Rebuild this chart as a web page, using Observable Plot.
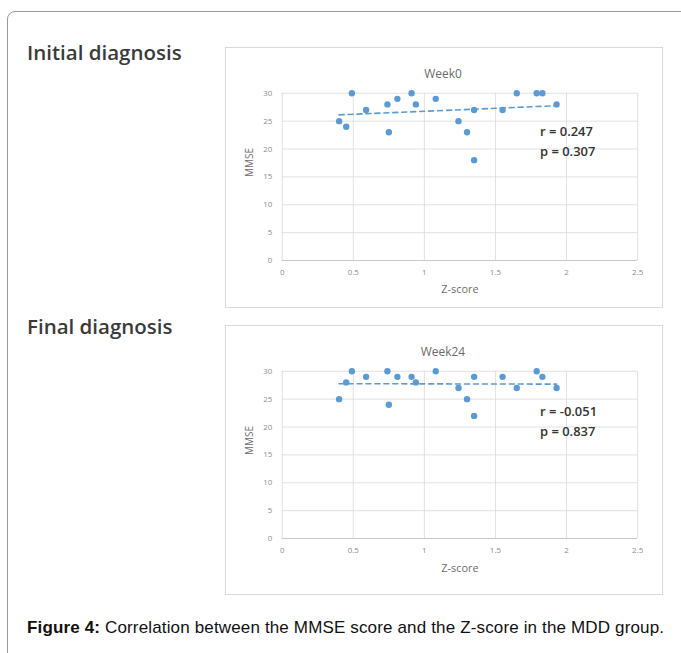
<!DOCTYPE html>
<html>
<head>
<meta charset="utf-8">
<script src="https://cdn.jsdelivr.net/npm/d3@7"></script>
<script src="https://cdn.jsdelivr.net/npm/@observablehq/plot@0.6"></script>
<style>
  html, body { margin: 0; padding: 0; background: #fff; width: 681px; height: 653px; overflow: hidden; position: relative; }
  .card { position: absolute; left: 7px; top: 11px; width: 720px; height: 720px; border: 1px solid #9a9a9a; border-radius: 8px; box-sizing: border-box; }
  .heading { position: absolute; left: 27px; font-family: "Open Sans", sans-serif; font-size: 20.5px; font-weight: 600; color: #3a3a3a; line-height: normal; }
  .frame { position: absolute; left: 225px; width: 438px; border: 1px solid #d9d9d9; box-sizing: border-box; background: #fff; }
  .frame svg { position: absolute; left: -1px; top: -1px; }
  .caption { position: absolute; left: 27px; top: 618px; font-family: "Liberation Sans", Arial, sans-serif; font-size: 17px; letter-spacing: 0.15px; color: #111; white-space: nowrap; }
</style>
</head>
<body>
<div class="card"></div>
<div class="heading" style="top:38px">Initial diagnosis</div>
<div class="heading" style="top:312px">Final diagnosis</div>
<div class="frame" id="f0" style="top:47px;height:261px"></div>
<div class="frame" id="f1" style="top:325px;height:270px"></div>
<div class="caption"><b>Figure 4:</b> Correlation between the MMSE score and the Z-score in the MDD group.</div>
<script>
// Data
const zScore = [0.40,0.45,0.49,0.59,0.74,0.75,0.81,0.91,0.94,1.08,1.24,1.30,1.35,1.35,1.55,1.65,1.79,1.83,1.93];
const mmseWeek0 = [25,24,30,27,28,23,29,30,28,29,25,23,27,18,27,30,30,30,28];
const mmseWeek24 = [25,28,30,29,30,24,29,29,28,30,27,25,29,22,29,27,30,29,27];
const xTicks = [0,0.5,1,1.5,2,2.5];
const yTicks = [0,5,10,15,20,25,30];
const panelTitles = ["Week0","Week24"];
const statsWeek0 = "r = 0.247\np = 0.307";
const statsWeek24 = "r = -0.051\np = 0.837";

const blue = "#5b9bd5";
const grid = "#d9d9d9";
const tickColor = "#8c8c8c";

function makeChart(values, title, stats, opts) {
  const data = zScore.map((z, i) => ({z, mmse: values[i]}));
  return Plot.plot({
    width: 438,
    height: opts.height,
    marginTop: 46,
    marginBottom: opts.marginBottom,
    marginLeft: 57,
    marginRight: 24,
    style: {fontFamily: "'Open Sans', sans-serif", background: "transparent", overflow: "visible"},
    x: {domain: [0, 2.5]},
    y: {domain: [0, 30]},
    marks: [
      Plot.gridX(xTicks, {stroke: grid, strokeOpacity: 1, strokeWidth: 0.8}),
      Plot.gridY(yTicks, {stroke: grid, strokeOpacity: 1, strokeWidth: 0.8}),
      Plot.ruleY([0], {stroke: "#c8c8c8", strokeWidth: 1}),
      Plot.axisX(xTicks, {tickSize: 0, tickPadding: 9, fontSize: 8, fill: tickColor, tickFormat: d => String(d), label: null}),
      Plot.axisY(yTicks, {tickSize: 0, tickPadding: 10, fontSize: 8, fill: tickColor, tickFormat: d => String(d), label: null}),
      Plot.text(["Z-score"], {frameAnchor: "bottom", dy: opts.xLabelDy, fontSize: 11, fill: "#6e6e6e"}),
      Plot.text(["MMSE"], {frameAnchor: "left", dx: -33, rotate: -90, fontSize: 10, fill: "#6e6e6e"}),
      Plot.text([title], {frameAnchor: "top", dx: -17, dy: -24, fontSize: 12, fill: "#6a6a6a"}),
      Plot.linearRegressionY(data, {x: "z", y: "mmse", stroke: blue, strokeWidth: 1.6, strokeDasharray: "5,4", ci: 0}),
      Plot.dot(data, {x: "z", y: "mmse", r: 3.2, fill: blue, stroke: "none"}),
      Plot.text([stats], {frameAnchor: "top-left", textAnchor: "start", lineAnchor: "top", dx: 259, dy: opts.statsDy, fontSize: 13, lineHeight: 1.55, fill: "#333", fontWeight: 600})
    ]
  });
}

document.getElementById("f0").appendChild(makeChart(mmseWeek0, panelTitles[0], statsWeek0, {height: 261, marginBottom: 47, xLabelDy: 33, statsDy: 29}));
document.getElementById("f1").appendChild(makeChart(mmseWeek24, panelTitles[1], statsWeek24, {height: 270, marginBottom: 56, xLabelDy: 34, statsDy: 31}));
</script>
</body>
</html>
